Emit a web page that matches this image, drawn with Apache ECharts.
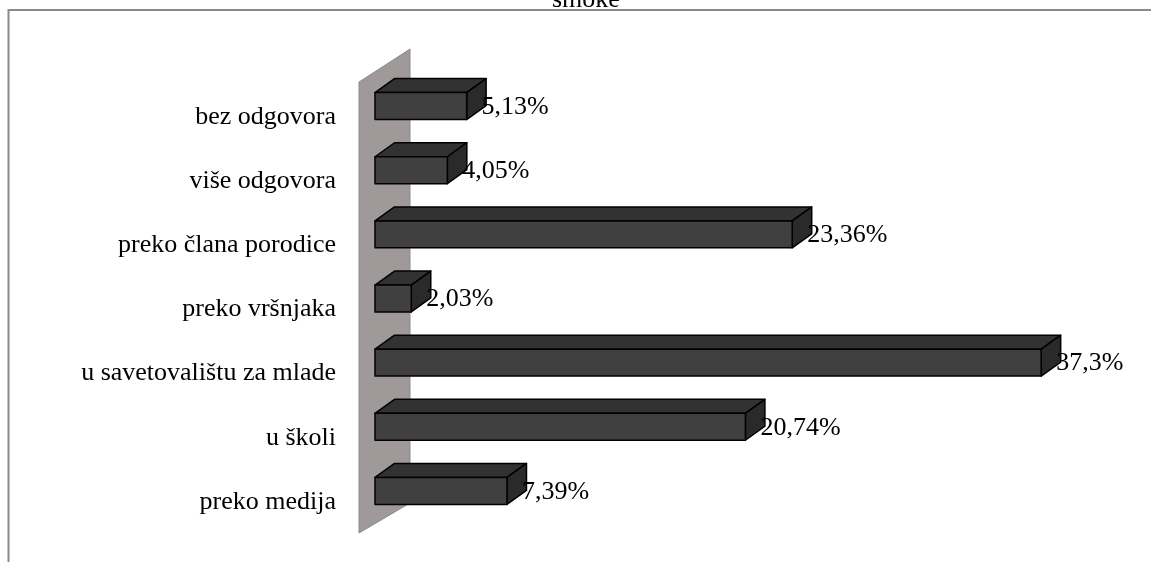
<!DOCTYPE html>
<html>
<head>
<meta charset="utf-8">
<script src="https://cdn.jsdelivr.net/npm/echarts@6/dist/echarts.min.js"></script>
<style>
html,body{margin:0;padding:0;background:#fff;}
#chart{width:1151px;height:562px;}
</style>
</head>
<body>
<div id="chart"></div>
<script>
const titleText = 'smoke';
const categories = ['bez odgovora', 'više odgovora', 'preko člana porodice', 'preko vršnjaka', 'u savetovalištu za mlade', 'u školi', 'preko medija'];
const values = [5.13, 4.05, 23.36, 2.03, 37.3, 20.74, 7.39];
const valueLabels = ['5,13%', '4,05%', '23,36%', '2,03%', '37,3%', '20,74%', '7,39%'];

const FONT = 'Liberation Serif, Times New Roman, serif';
const DX = 19.5, DY = 14;

const chart = echarts.init(document.getElementById('chart'), null, {renderer: 'canvas'});

const barData = values.map((v, i) => [v, i]);

function renderBar(params, api) {
  const idx = api.value(1);
  const val = api.value(0);
  const p0 = api.coord([0, idx]);
  const p1 = api.coord([val, idx]);
  const h = api.size([0, 1])[1] * 0.42;
  const x0 = p0[0], x1 = p1[0], c = p0[1];
  const yt = c - h / 2, yb = c + h / 2;
  const stroke = {stroke: '#000', lineWidth: 1.5, lineJoin: 'round'};
  return {
    type: 'group',
    children: [
      {type: 'polygon', shape: {points: [[x0, yt], [x0 + DX, yt - DY], [x1 + DX, yt - DY], [x1, yt]]},
        style: Object.assign({fill: '#323232'}, stroke)},
      {type: 'polygon', shape: {points: [[x1, yt], [x1 + DX, yt - DY], [x1 + DX, yb - DY], [x1, yb]]},
        style: Object.assign({fill: '#2a2a2a'}, stroke)},
      {type: 'rect', shape: {x: x0, y: yt, width: x1 - x0, height: h},
        style: Object.assign({fill: '#404040'}, stroke)},
      {type: 'text', x: x1 + 15, y: c + 1,
        style: {text: valueLabels[params.dataIndex], fill: '#000', font: '26px ' + FONT,
          textAlign: 'left', textVerticalAlign: 'middle'}}
    ]
  };
}

function renderWall(params, api) {
  const cs = params.coordSys;
  const gx = api.coord([0, 0])[0];
  const gy = cs.y, gb = cs.y + cs.height;
  return {
    type: 'polygon',
    shape: {points: [[gx - 16, gy + 8], [gx + 35, gy - 25], [gx + 35, gb - 20], [gx - 16, gb + 10]]},
    style: {fill: '#a09999', stroke: '#8f8a8a', lineWidth: 1}
  };
}

chart.setOption({
  animation: false,
  backgroundColor: '#fff',
  title: {
    text: titleText,
    left: 547,
    top: -18,
    textStyle: {fontFamily: FONT, fontSize: 26, fontWeight: 'normal', color: '#000'}
  },
  graphic: [
    {type: 'polyline', shape: {points: [[8.5, 562], [8.5, 10], [1151, 10]]},
      style: {stroke: '#8a8a8a', lineWidth: 2, fill: null}, z: 100}
  ],
  grid: {left: 375, right: 61.6, top: 74, bottom: 39, containLabel: false},
  xAxis: {
    type: 'value', min: 0, max: 40, show: false
  },
  yAxis: {
    type: 'category',
    data: categories,
    inverse: true,
    axisLine: {show: false},
    axisTick: {show: false},
    splitLine: {show: false},
    axisLabel: {
      fontFamily: FONT, fontSize: 26, color: '#000', margin: 39,
      verticalAlign: 'top', lineHeight: 22
    }
  },
  series: [
    {type: 'custom', renderItem: renderWall, data: [[0, 0]], encode: {x: 0, y: 1}, z: 1, clip: false, silent: true},
    {type: 'custom', renderItem: renderBar, data: barData, encode: {x: 0, y: 1}, z: 2, clip: false, silent: true}
  ]
});
</script>
</body>
</html>
